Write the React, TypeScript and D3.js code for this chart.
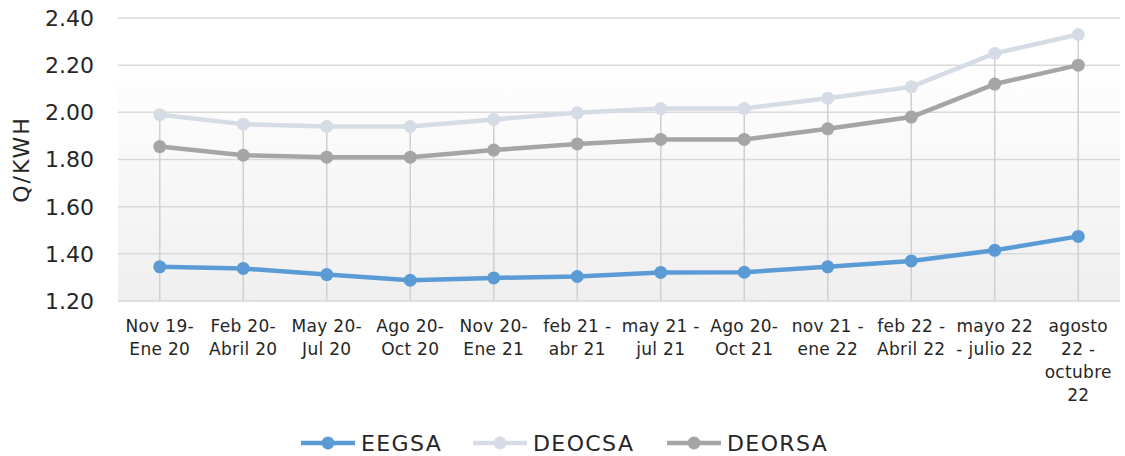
import React from "react";
import * as d3 from "d3";

const categories = [
  "Nov 19-\nEne 20",
  "Feb 20-\nAbril 20",
  "May 20-\nJul 20",
  "Ago 20-\nOct 20",
  "Nov 20-\nEne 21",
  "feb 21 -\nabr 21",
  "may 21 -\njul 21",
  "Ago 20-\nOct 21",
  "nov 21 -\nene 22",
  "feb 22 -\nAbril 22",
  "mayo 22\n- julio 22",
  "agosto\n22 -\noctubre\n22",
];
const eegsa = [1.345, 1.338, 1.312, 1.288, 1.298, 1.304, 1.321, 1.322, 1.345, 1.37, 1.415, 1.474];
const deocsa = [1.99, 1.95, 1.94, 1.94, 1.97, 1.998, 2.016, 2.016, 2.06, 2.108, 2.25, 2.33];
const deorsa = [1.855, 1.818, 1.81, 1.81, 1.84, 1.866, 1.885, 1.885, 1.93, 1.98, 2.12, 2.2];
const yTicks = [1.2, 1.4, 1.6, 1.8, 2.0, 2.2, 2.4];
const seriesNames = ["EEGSA", "DEOCSA", "DEORSA"];
const seriesColors = ["#5b9bd5", "#d6dce5", "#a5a5a5"];

const W = 1125;
const H = 456;
const FONT = "'DejaVu Sans', sans-serif";

export default function App() {
  const left = 118, right = 1120, top = 18, bottom = 301;
  const x = d3.scaleBand<number>().domain(categories.map((_, i) => i)).range([left, right]);
  const cx = (i: number) => (x(i) as number) + x.bandwidth() / 2;
  const y = d3.scaleLinear().domain([1.2, 2.4]).range([bottom, top]);
  const allSeries = [eegsa, deocsa, deorsa];
  const line = d3.line<number>().x((_, i) => cx(i)).y((d) => y(d));
  const legendSym = [301, 473, 667];

  return (
    <svg width={W} height={H} style={{ position: "absolute", left: 0, top: 0 }}>
      <defs>
        <linearGradient id="bg" x1="0" y1="0" x2="0" y2="1">
          <stop offset="0" stopColor="#ffffff" />
          <stop offset="0.15" stopColor="#ffffff" />
          <stop offset="1" stopColor="#efefef" />
        </linearGradient>
      </defs>
      <rect x={0} y={0} width={W} height={H} fill="#fff" />
      <rect x={left} y={top} width={right - left} height={bottom - top} fill="url(#bg)" />
      {yTicks.map((t) => (
        <g key={t}>
          <line x1={left} x2={right} y1={y(t)} y2={y(t)} stroke="#d9d9d9" strokeWidth={1.5} />
          <text x={94} y={y(t)} dy="0.36em" textAnchor="end" fontFamily={FONT} fontSize={22} fill="#262626">
            {t.toFixed(2)}
          </text>
        </g>
      ))}
      {categories.map((c, i) => {
        const mx = Math.max(eegsa[i], deocsa[i], deorsa[i]);
        return (
          <g key={i}>
            <line x1={cx(i)} x2={cx(i)} y1={y(mx)} y2={bottom} stroke="#d0d0d0" strokeWidth={1.5} />
            <text textAnchor="middle" fontFamily={FONT} fontSize={17} letterSpacing={0.3} fill="#262626">
              {c.split("\n").map((ln, k) => (
                <tspan key={k} x={cx(i)} y={332 + k * 23}>
                  {ln}
                </tspan>
              ))}
            </text>
          </g>
        );
      })}
      {allSeries.map((s, si) => (
        <g key={si}>
          <path d={line(s) || ""} fill="none" stroke={seriesColors[si]} strokeWidth={4.5} strokeLinejoin="round" />
          {s.map((v, i) => (
            <circle key={i} cx={cx(i)} cy={y(v)} r={6.5} fill={seriesColors[si]} />
          ))}
        </g>
      ))}
      <text
        transform={`translate(29,${(top + bottom) / 2}) rotate(-90)`}
        textAnchor="middle"
        fontFamily={FONT}
        fontSize={22}
        letterSpacing={2}
        fill="#262626"
      >
        Q/KWH
      </text>
      {seriesNames.map((n, i) => (
        <g key={n}>
          <line x1={legendSym[i]} x2={legendSym[i] + 54} y1={443} y2={443} stroke={seriesColors[i]} strokeWidth={4.5} />
          <circle cx={legendSym[i] + 27} cy={443} r={6.5} fill={seriesColors[i]} />
          <text x={legendSym[i] + 60} y={443} dy="0.36em" fontFamily={FONT} fontSize={22} letterSpacing={1.4} fill="#262626">
            {n}
          </text>
        </g>
      ))}
    </svg>
  );
}
